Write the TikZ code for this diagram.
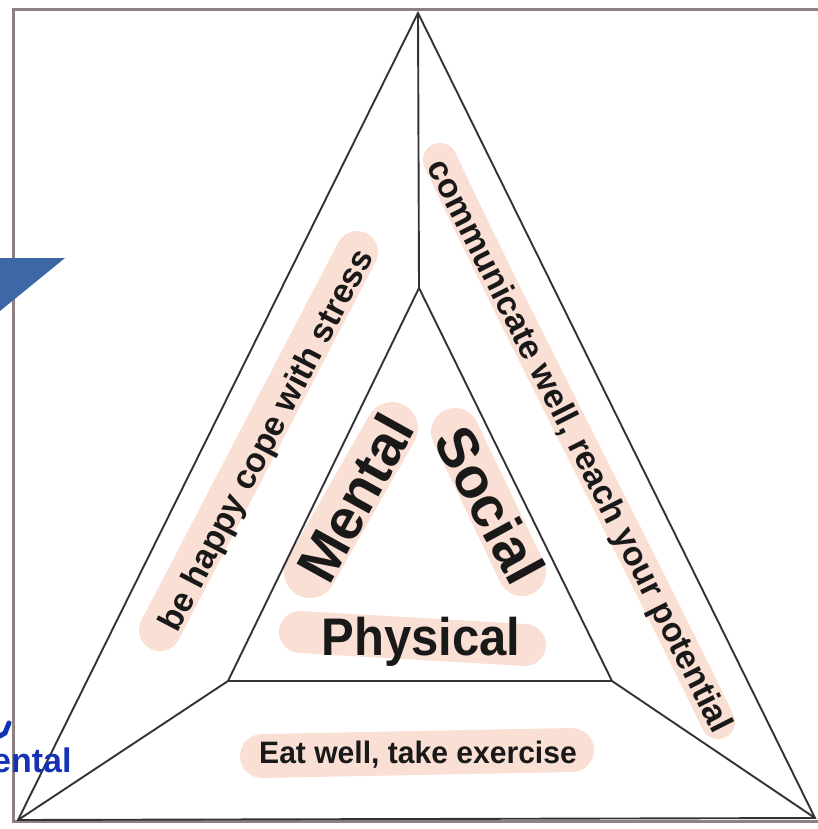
\documentclass[tikz,border=0pt]{standalone}
\usepackage{fontspec}
\setmainfont{Liberation Sans}
\begin{document}
\begin{tikzpicture}[x=1pt,y=-1pt,
  frameline/.style={draw=black!40!red!10!gray!90, line width=3pt},
  triline/.style={draw=black!80, line width=1.9pt},
  hl/.style={draw=hlpink, line width=#1, line cap=round},
  lbl/.style={font=\bfseries\fontsize{#1}{#1}\selectfont, inner sep=0pt, text=black!90},
  ink/.style={text=inkblue}]
\definecolor{hlpink}{RGB}{250,223,212}
\definecolor{arrowblue}{RGB}{61,104,166}
\definecolor{inkblue}{RGB}{20,50,180}
\useasboundingbox (0,0) rectangle (818,829);
% frame
\draw[frameline] (818,10) -- (13,10) -- (13,821) -- (818,821);
% highlights
\draw[hl=42pt] (160,630) -- (357,252);
\draw[hl=52pt] (310,572) -- (392,428);
\draw[hl=48pt] (455,432) -- (522,572);
\draw[hl=34pt] (440,160) .. controls (520,330) and (640,560) .. (718,722);
\draw[hl=42pt] (300,632) -- (525,645);
\draw[hl=44pt] (262,756) -- (572,750);
% triangle coordinates
\coordinate (OT) at (418,13);
\coordinate (OL) at (18,820);
\coordinate (OR) at (815,818);
\coordinate (IT) at (419,288);
\coordinate (IL) at (228,681);
\coordinate (IR) at (612,681);
\draw[triline] (OT) -- (OL) -- (OR) -- cycle;
\draw[triline] (IT) -- (IL) -- (IR) -- cycle;
\draw[triline] (OT) -- (IT);
\draw[triline] (OL) -- (IL);
\draw[triline] (OR) -- (IR);
% labels
\node[lbl=34pt, rotate=62.5] (t1) at (268,441) {be happy cope with stress};
\node[lbl=34pt, rotate=-63.2] (t2) at (578,447) {communicate well, reach your potential};
\node[lbl=57pt, rotate=61] (t3) at (355,498) {Mental};
\node[lbl=57pt, rotate=-61.5] (t4) at (490,505) {Social};
\node[lbl=49pt, yscale=1.08] (t5) at (421,642) {Physical};
\node[lbl=31pt, xscale=0.97] (t6) at (418,755) {Eat well, take exercise};
% blue arrow fragment
\fill[arrowblue] (0,258) -- (65,258) -- (0,311) -- cycle;
% blue ink
\draw[inkblue, line width=5pt, line cap=round] (9,723) -- (5,733) -- (0,736);
\node[ink, font=\bfseries\fontsize{34}{34}\selectfont, anchor=base west, inner sep=0pt] (ink) at (-8,772) {ental};
\end{tikzpicture}
\end{document}
